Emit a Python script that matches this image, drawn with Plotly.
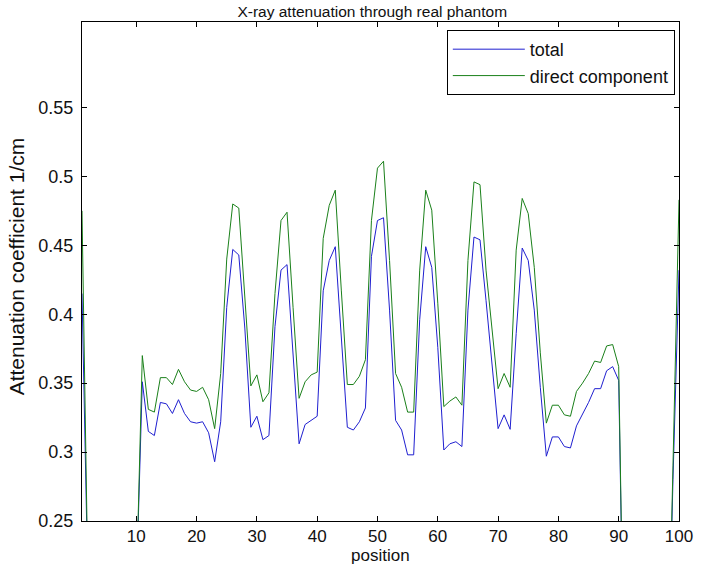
import plotly.graph_objects as go

position = list(range(1, 101))

total = [0.415,
         0.2, 0.2, 0.2, 0.2, 0.2, 0.2, 0.2, 0.2, 0.2,
         0.351, 0.315, 0.312, 0.336, 0.335, 0.328, 0.338, 0.328, 0.322, 0.321,
         0.322, 0.314, 0.293, 0.322, 0.405, 0.447, 0.443,
         0.39, 0.318, 0.326, 0.309, 0.312, 0.391, 0.432, 0.436, 0.37, 0.306,
         0.320, 0.323, 0.326, 0.417, 0.439, 0.449, 0.386, 0.318,
         0.316, 0.322, 0.332, 0.442, 0.468, 0.470, 0.403, 0.323, 0.316, 0.298,
         0.298, 0.396, 0.449, 0.434, 0.376, 0.3015, 0.306, 0.3075, 0.304,
         0.403, 0.456, 0.454, 0.41, 0.362, 0.317, 0.327, 0.3165, 0.386, 0.448,
         0.439, 0.403, 0.347, 0.297, 0.311, 0.311, 0.304, 0.303, 0.319, 0.327,
         0.336, 0.346, 0.346, 0.359, 0.362, 0.352,
         0.1, 0.1, 0.1, 0.1, 0.1, 0.1, 0.1, 0.1,
         0.28, 0.432]

direct = [0.475,
          0.2, 0.2, 0.2, 0.2, 0.2, 0.2, 0.2, 0.2, 0.2,
          0.370, 0.331, 0.329, 0.354, 0.354, 0.349, 0.360, 0.351, 0.345, 0.344,
          0.347, 0.338, 0.317, 0.357, 0.44, 0.480, 0.477,
          0.41, 0.348, 0.356, 0.3365, 0.343, 0.415, 0.468, 0.474, 0.405, 0.339,
          0.351, 0.356, 0.358, 0.455, 0.479, 0.490, 0.4175, 0.349,
          0.349, 0.355, 0.367, 0.468, 0.506, 0.511, 0.439, 0.357, 0.347, 0.329,
          0.329, 0.432, 0.490, 0.4755, 0.408, 0.333, 0.337, 0.340, 0.334,
          0.439, 0.496, 0.494, 0.432, 0.391, 0.346, 0.357, 0.347, 0.4465, 0.484,
          0.473, 0.434, 0.372, 0.321, 0.334, 0.334, 0.327, 0.326, 0.344, 0.350,
          0.357, 0.366, 0.365, 0.377, 0.378, 0.362,
          0.1, 0.1, 0.1, 0.1, 0.1, 0.1, 0.1, 0.1,
          0.29, 0.483]

x_ticks = [10, 20, 30, 40, 50, 60, 70, 80, 90, 100]
y_ticks = [0.25, 0.3, 0.35, 0.4, 0.45, 0.5, 0.55]
y_tick_labels = ["0.25", "0.3", "0.35", "0.4", "0.45", "0.5", "0.55"]

FONT = "Liberation Sans, Arial, sans-serif"
TXT = "#111111"

fig = go.Figure()
fig.add_trace(go.Scatter(x=position, y=total, mode="lines", name="total",
                         line=dict(color="#1f1fd0", width=1)))
fig.add_trace(go.Scatter(x=position, y=direct, mode="lines", name="direct component",
                         line=dict(color="#1a801a", width=1)))

axis_common = dict(showgrid=False, zeroline=False, showline=True, linecolor="black",
                   linewidth=1, mirror="ticks", ticks="inside", ticklen=5,
                   tickcolor="black", ticklabeloverflow="allow")

fig.update_layout(
    width=705, height=571,
    margin=dict(l=82, r=15, t=22, b=50),
    paper_bgcolor="white", plot_bgcolor="white",
    title=dict(text="X-ray attenuation through real phantom", x=0.528, xanchor="center",
               y=1 - 12 / 571, yref="container", yanchor="middle",
               font=dict(family=FONT, size=15.5, color=TXT)),
    xaxis=dict(range=[1, 100], tickvals=x_ticks,
               tickfont=dict(family=FONT, size=17, color=TXT), **axis_common),
    yaxis=dict(range=[0.25, 0.612], tickvals=y_ticks, ticktext=y_tick_labels,
               ticklabelstandoff=4,
               tickfont=dict(family=FONT, size=18, color=TXT), **axis_common),
    legend=dict(x=0.993, y=0.984, xanchor="right", yanchor="top",
                bgcolor="white", bordercolor="black", borderwidth=1,
                font=dict(family=FONT, size=18, color=TXT),
                tracegroupgap=0, itemwidth=72),
    showlegend=True,
    hovermode=False,
    annotations=[
        dict(text="position", xref="paper", yref="paper", x=0.5, y=-0.070,
             xanchor="center", yanchor="middle", showarrow=False,
             font=dict(family=FONT, size=17, color=TXT)),
        dict(text="Attenuation coefficient 1/cm", xref="paper", yref="paper",
             x=-0.110, y=0.511, xanchor="center", yanchor="middle", textangle=-90,
             showarrow=False, font=dict(family=FONT, size=21, color=TXT)),
    ],
)

fig.write_html("out.html",
               config={"displayModeBar": False},
               post_script="document.body.style.margin='0';document.body.style.overflow='hidden';")
